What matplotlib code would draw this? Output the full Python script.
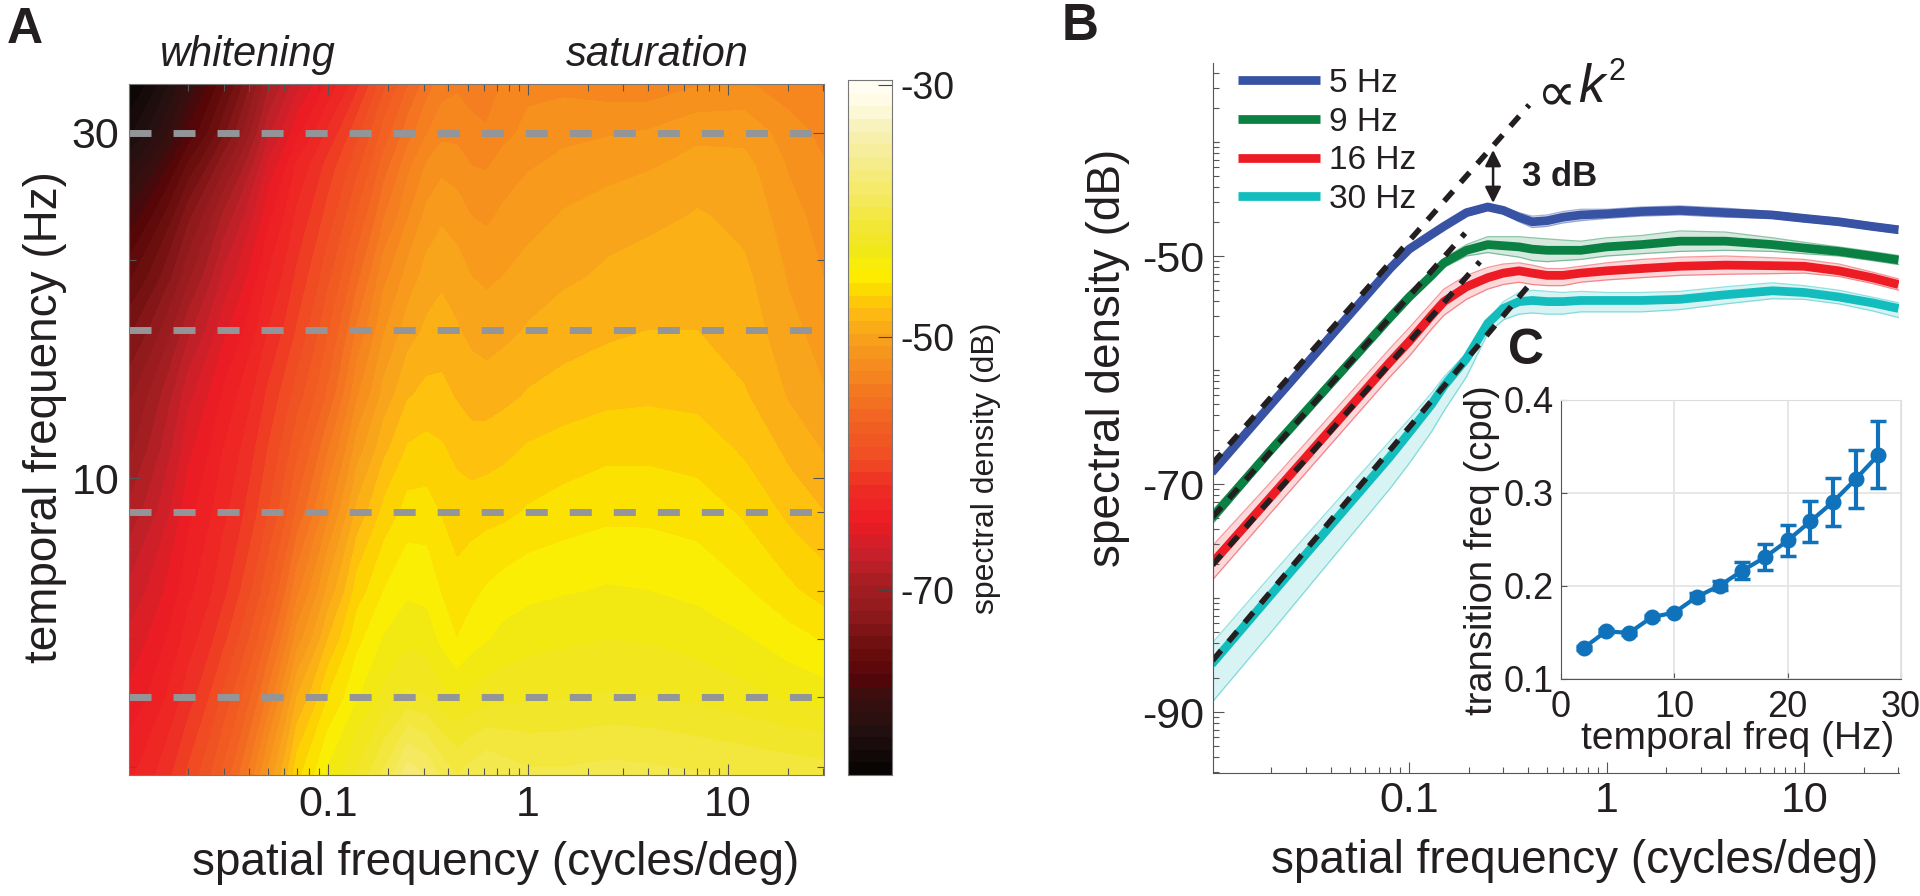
import matplotlib
matplotlib.use("Agg")
import matplotlib.pyplot as plt
import numpy as np
from matplotlib.colors import LinearSegmentedColormap

plt.rcParams['font.family'] = ['Liberation Sans', 'DejaVu Sans']
plt.rcParams['axes.unicode_minus'] = False

W, H = 1920, 896
INK = '#231f20'

def axpx(x0, y0, x1, y1):
    # pixel box of the reference to figure fractions
    return [x0 / W, 1 - y1 / H, (x1 - x0) / W, (y1 - y0) / H]

def label(x, y, s, **kw):
    kw.setdefault('color', INK)
    fig.text(x / W, 1 - y / H, s, ha='center', va='center', **kw)

# panel A grid: spatial freq columns, temporal freq rows, dB
sf = [0.01, 0.02, 0.03, 0.05, 0.07, 0.1, 0.14, 0.19, 0.25, 0.31, 0.37, 0.44, 0.52, 0.62, 0.75, 1, 1.5, 2.5, 4, 7, 12, 20, 30]
tf = [3.9, 5, 6, 7, 9, 11, 13, 16, 19, 23, 27, 30, 35]
row_4 = [-64, -60.5, -57.5, -51.5, -47, -44.5, -42.5, -40.5, -38, -38.8, -40, -40.7, -40.2, -39.7, -40.1, -40.5, -40.5, -40.3, -40.4, -40.6, -40.8, -41, -41.2]
row_5 = [-65.5, -62.2, -59.5, -54.5, -49.7, -46.7, -44.8, -43.4, -42.5, -42.7, -43.4, -43.9, -43.5, -43.2, -43, -42.9, -42.8, -42.6, -42.7, -43, -43.4, -43.9, -44.2]
row_6 = [-66.5, -63.2, -61, -56.5, -52.2, -48.7, -46, -44.6, -44, -44.2, -45, -45.7, -45.2, -44.8, -44.4, -44.1, -43.9, -43.7, -43.8, -44.1, -44.6, -45.3, -45.8]
row_7 = [-67.5, -64, -62, -58, -54, -50.4, -47.2, -45.7, -44.9, -45, -45.8, -46.4, -46, -45.6, -45.3, -45, -44.8, -44.6, -44.7, -45, -45.6, -46.5, -47.2]
row_9 = [-69.5, -65, -63, -59.8, -56.5, -53, -49.4, -47.4, -46.3, -46.3, -46.8, -47.2, -47.2, -47.1, -47, -46.6, -46.3, -46, -46, -46.2, -46.9, -48, -48.7]
row_11 = [-71, -66, -63.7, -60.7, -58, -54.8, -51.2, -49, -47.6, -47.4, -47.6, -48, -48.3, -48.2, -48, -47.6, -47.3, -47, -47, -47.2, -47.9, -49, -49.8]
row_13 = [-72, -67, -64.5, -61.5, -59.2, -56.5, -52.8, -50.3, -48.8, -48.4, -48.4, -48.8, -49.1, -49.2, -49, -48.6, -48.3, -48, -47.9, -48, -48.6, -49.8, -50.6]
row_16 = [-74, -69, -66, -62.7, -60.6, -57.8, -54.5, -51.8, -50.2, -49.5, -49.3, -49.6, -50, -50.2, -50, -49.6, -49.2, -48.9, -48.7, -48.7, -49.2, -50.4, -51.2]
row_19 = [-76, -71, -67.5, -63.7, -61.5, -59, -56, -53, -51.3, -50.3, -49.9, -50.2, -50.7, -50.9, -50.7, -50.3, -49.9, -49.5, -49.2, -49, -49.5, -50.8, -51.7]
row_23 = [-78.5, -73, -69.5, -65, -62.5, -60.3, -57.6, -54.8, -52.8, -51.4, -50.9, -51.2, -51.7, -51.9, -51.5, -51.1, -50.6, -50.2, -50, -49.6, -50, -51.3, -52.2]
row_27 = [-81, -75.5, -72, -66.5, -63.5, -61.3, -59, -56.2, -54, -52.6, -52, -52.2, -52.7, -52.8, -52.3, -51.8, -51.4, -51.1, -50.8, -50.3, -50.4, -51.8, -52.6]
row_30 = [-83, -77.5, -74, -68, -65, -62.5, -60, -57.3, -55.2, -53.8, -53, -53, -53.5, -53.6, -53, -52.4, -52, -51.8, -51.6, -51, -51, -52.3, -53]
row_35 = [-85, -79.5, -76, -70, -67, -64.5, -62, -59, -56.8, -55.2, -54.2, -53.9, -54, -54.2, -53.6, -53, -53, -53.3, -53.4, -52.8, -52.6, -53.2, -53.8]
dash_tf = [5, 9, 16, 30]

# colour bar
cb_db = [-84.7, -81.6, -79, -77.4, -75, -72.4, -70, -67.7, -65.1, -62.4, -60, -56.7, -52.8, -50.2, -48.6, -47, -45.4,
         -44.1, -42.3, -38.3, -34.4, -31.7, -29.6]
cb_col = ['#0a0505', '#241010', '#3a0f0f', '#560508', '#6d0f0f', '#8f1a1d', '#a51e22', '#c8202a', '#ed1c24', '#ee2c25',
          '#f04e23', '#f26522', '#f68b1f', '#f9a51b', '#fdb913', '#fcd500', '#fdf000',
          '#f1e813', '#f2e62a', '#f5ea70', '#f6f0b0', '#fffbe6', '#ffffff']

# panel B curves
b_sf = [0.01, 0.02, 0.08, 0.1, 0.13, 0.15, 0.195, 0.25, 0.3, 0.36, 0.42, 0.5, 0.6, 0.74, 1, 1.5, 2.35, 4, 6.9, 10, 15, 22, 30]
blue = [-69, -63, -51.1, -49.4, -48.1, -47.4, -46.2, -45.7, -46, -46.6, -47, -46.9, -46.6, -46.4, -46.3, -46.1, -46, -46.2, -46.4, -46.7, -47, -47.4, -47.7]
green = [-73, -67, -55.4, -53.6, -51.7, -50.6, -49.5, -49, -49.1, -49.2, -49.4, -49.5, -49.5, -49.5, -49.2, -49, -48.7, -48.7, -49, -49.3, -49.6, -50, -50.35]
red = [-77, -71.1, -59.3, -57.5, -55.2, -54, -52.7, -51.9, -51.5, -51.3, -51.5, -51.7, -51.7, -51.5, -51.3, -51.1, -50.9, -50.8, -50.85, -50.9, -51.3, -51.9, -52.5]
cyan = [-85.8, -79.7, -67.6, -65.5, -63, -61.4, -59, -55.9, -54.6, -54, -53.9, -54, -54, -53.9, -53.9, -53.9, -53.8, -53.4, -53.05, -53.2, -53.6, -54.1, -54.6]
blue_w = [0.2, 0.2, 0.2, 0.2, 0.2, 0.2, 0.3, 0.3, 0.3, 0.4, 0.5, 0.5, 0.5, 0.5, 0.4, 0.4, 0.4, 0.4, 0.3, 0.3, 0.3, 0.3, 0.3]
green_w = [0.6, 0.4, 0.3, 0.3, 0.3, 0.4, 0.5, 0.7, 0.8, 0.9, 1, 1, 0.9, 0.8, 0.8, 0.8, 0.9, 0.8, 0.6, 0.5, 0.4, 0.4, 0.4]
red_up = [1.5, 1.3, 1.2, 1.2, 1.1, 1.1, 1, 0.9, 0.8, 0.7, 0.7, 0.6, 0.6, 0.6, 0.7, 0.8, 0.8, 0.8, 0.7, 0.6, 0.6, 0.5, 0.5]
red_lo = [1.5, 1.4, 1.3, 1.3, 1.2, 1.2, 1.1, 1, 1, 1, 1, 0.9, 0.9, 0.8, 0.8, 0.8, 0.8, 0.8, 0.7, 0.6, 0.5, 0.5, 0.5]
cyan_up = [1.8, 1.7, 1.4, 1.2, 1, 0.8, 0.5, 0.3, 0.6, 0.8, 0.9, 0.9, 0.8, 0.8, 0.7, 0.7, 0.7, 0.7, 0.7, 0.6, 0.6, 0.5, 0.5]
cyan_lo = [3.4, 3.3, 2.8, 2.7, 2.4, 2.2, 1.6, 0.9, 1, 1.1, 1.1, 1.1, 1.1, 1, 1, 1, 0.9, 0.8, 0.7, 0.6, 0.6, 0.7, 0.8]

dash_x = [[0.0101, 0.405], [0.0101, 0.192], [0.0101, 0.228], [0.0101, 0.398]]
dash_y = [[-68.2, -36.75], [-72.9, -48], [-77.1, -50.5], [-85.5, -52.7]]

names = ['5 Hz', '9 Hz', '16 Hz', '30 Hz']
cols = ['#3953a4', '#0b8043', '#ed1c24', '#13bdbd']

# panel C
c_x = [2, 4, 6, 8, 10, 12, 14, 16, 18, 20, 22, 24, 26, 28]
c_y = [0.133, 0.151, 0.149, 0.166, 0.171, 0.188, 0.2, 0.216, 0.2305, 0.2485, 0.269, 0.29, 0.3145, 0.3405]
c_err = [0.002, 0.002, 0.002, 0.002, 0.002, 0.004, 0.005, 0.009, 0.0137, 0.0164, 0.022, 0.026, 0.031, 0.036]

vmin, vmax = -84.7, -29.6
cm = LinearSegmentedColormap.from_list('spec', [((d - vmin) / (vmax - vmin), c) for d, c in zip(cb_db, cb_col)], N=512)

fig = plt.figure(figsize=(19.2, 8.96), dpi=100)

# A
ax = fig.add_axes(axpx(129, 84, 824, 775))
Z = np.array([row_4, row_5, row_6, row_7, row_9, row_11, row_13, row_16, row_19, row_23, row_27, row_30, row_35])
levels = np.arange(vmin - 4, vmax + 1, 1.0)
ax.contourf(sf, tf, Z, levels=levels, cmap=cm, vmin=vmin, vmax=vmax)
ax.set_xscale('log')
ax.set_yscale('log')
ax.set_xlim(0.0101, 30.2)
ax.set_ylim(3.9, 35)
for f in dash_tf:
    ax.plot([0.0101, 30.2], [f, f], color='#939598', lw=5, dashes=(3.17, 3.17))
ax.set_xticks([0.1, 1, 10])
ax.set_xticklabels(['0.1', '1', '10'])
ax.set_yticks([10, 30])
ax.set_yticklabels(['10', '30'])
ax.set_yticks([4, 5, 6, 7, 8, 9, 20], minor=True)
ax.yaxis.set_minor_formatter(plt.NullFormatter())
ax.tick_params(which='both', direction='in', top=True, right=True, color='#555555', length=5, width=0.8)
ax.tick_params(which='major', labelsize=31, pad=7, length=8, labelcolor=INK)
for s in ax.spines.values():
    s.set_color('#777777')
label(496, 863, 'spatial frequency (cycles/deg)', fontsize=33)
label(45, 417, 'temporal frequency (Hz)', fontsize=33, rotation=90)
label(248, 55, 'whitening', fontsize=30, style='italic')
label(657, 55, 'saturation', fontsize=30, style='italic')
label(25, 30, 'A', fontsize=36, weight='bold')

# colorbar
cax = fig.add_axes(axpx(847.5, 80, 892, 775))
vals = np.arange(vmin, vmax + 0.5, 1.0)
cax.pcolormesh([0, 1], np.append(vals, vals[-1] + 1.0), vals[:, None], cmap=cm, vmin=vmin, vmax=vmax)
cax.set_ylim(vmin, vmax)
cax.set_xticks([])
cax.yaxis.tick_right()
cax.set_yticks([-70, -50, -30])
cax.tick_params(labelsize=27, direction='in', length=10, color='#444444', pad=6, labelcolor=INK)
for s in cax.spines.values():
    s.set_color('#777777')
label(986, 468, 'spectral density (dB)', fontsize=23, rotation=90)

# B
bx = fig.add_axes(axpx(1212.5, 63, 1899, 773))
bx.patch.set_alpha(0)
curves = [blue, green, red, cyan]
ups = [blue_w, green_w, red_up, cyan_up]
los = [blue_w, green_w, red_lo, cyan_lo]
for c, u, l, col, name in zip(curves, ups, los, cols, names):
    c = np.array(c)
    upper = c + np.array(u)
    lower = c - np.array(l)
    bx.fill_between(b_sf, lower, upper, color=col, alpha=0.17, lw=0)
    bx.plot(b_sf, upper, color=col, lw=0.9, alpha=0.45)
    bx.plot(b_sf, lower, color=col, lw=0.9, alpha=0.45)
    bx.plot(b_sf, c, color=col, lw=6.3, label=name, solid_capstyle='butt')
for dx, dy in zip(dash_x, dash_y):
    bx.plot(dx, dy, color=INK, lw=4, dashes=(2.4, 2.1))
bx.set_xscale('log')
bx.set_xlim(0.0101, 30.2)
bx.set_ylim(-95.35, -33.07)
bx.set_xticks([0.1, 1, 10])
bx.set_xticklabels(['0.1', '1', '10'])
bx.set_yticks([-90, -70, -50])
# minor ticks follow a log pattern, 10 dB to the decade
minor = [10 * np.log10(k) + d for d in [-100, -90, -80, -70, -60, -50, -40] for k in range(1, 11)]
bx.set_yticks([m for m in minor if -95.35 < m < -33.07], minor=True)
bx.yaxis.set_minor_formatter(plt.NullFormatter())
bx.tick_params(which='both', direction='in', color='#555555', width=0.8, length=4)
bx.tick_params(which='major', labelsize=31, pad=6, length=8, labelcolor=INK)
bx.spines['top'].set_visible(False)
bx.spines['right'].set_visible(False)
for s in bx.spines.values():
    s.set_color('#555555')
label(1575, 861, 'spatial frequency (cycles/deg)', fontsize=33)
label(1108, 358, 'spectral density (dB)', fontsize=33, rotation=90)
leg = bx.legend(loc='upper left', bbox_to_anchor=(0.037, 0.993), frameon=False, fontsize=24, labelspacing=0.23,
                handlelength=2.46, handletextpad=0.27, borderpad=0, borderaxespad=0, labelcolor=INK)
bx.annotate('', xy=(0.266, -45.35), xytext=(0.266, -40.7),
            arrowprops=dict(arrowstyle='<|-|>', color=INK, lw=1.8, mutation_scale=24, shrinkA=0, shrinkB=0))
label(1560, 177, '3 dB', fontsize=25, weight='bold')
label(1556, 95, '\u221d', fontsize=40, family='DejaVu Sans')
label(1591, 88, 'k', fontsize=38, style='italic')
label(1617, 72, '2', fontsize=22)
label(1080, 26, 'B', fontsize=37, weight='bold')
label(1526, 351, 'C', fontsize=36, weight='bold')

# C inset
cx = fig.add_axes(axpx(1561, 399.6, 1901, 678.6))
cx.set_facecolor('none')
cx.errorbar(c_x, c_y, yerr=c_err, color='#0f72ba', lw=3, marker='o', ms=10.5, capsize=5.8, capthick=2.5, elinewidth=3)
cx.set_xlim(0, 30)
cx.set_ylim(0.1, 0.4)
cx.set_xticks([0, 10, 20, 30])
cx.set_yticks([0.1, 0.2, 0.3, 0.4])
cx.grid(color='#e3e3e3', lw=1.2)
cx.set_axisbelow(True)
cx.tick_params(labelsize=26, direction='in', length=4, color='#555555', labelcolor=INK)
cx.tick_params(axis='y', pad=5)
cx.tick_params(axis='x', pad=8)
for k in ['top', 'right']:
    cx.spines[k].set_color('#dddddd')
for k in ['left', 'bottom']:
    cx.spines[k].set_color('#555555')
label(1738, 739, 'temporal freq (Hz)', fontsize=28)
label(1482, 550, 'transition freq (cpd)', fontsize=27.5, rotation=90)

fig.savefig('out.png', dpi=100)
